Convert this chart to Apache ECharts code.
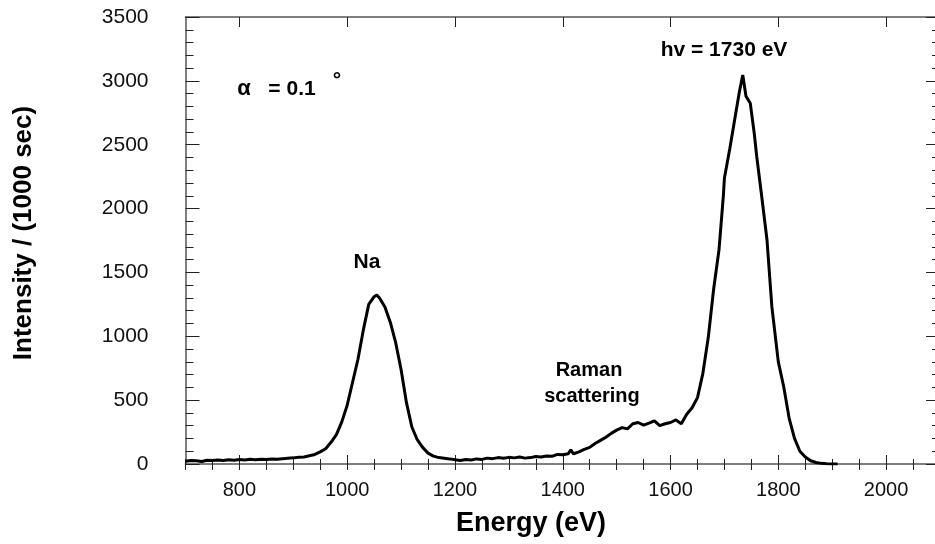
<!DOCTYPE html>
<html>
<head>
<meta charset="utf-8">
<script src="https://cdn.jsdelivr.net/npm/echarts@6/dist/echarts.min.js"></script>
<style>
  html, body { margin: 0; padding: 0; background: #fff; overflow: hidden; }
  /* a little wider than the window: the right frame of the original falls just outside */
  #chart { width: 941px; height: 544px; }
</style>
</head>
<body>
<div id="chart"></div>
<script>
// spectrum
const energy = [
  700, 710, 720, 730, 740, 750, 760, 770, 780, 790, 800, 810, 820, 830, 840, 850, 860, 870, 880, 890,
  900, 910, 920, 930, 940, 950, 960, 970, 980, 990, 1000, 1010, 1020, 1030, 1040, 1050, 1055, 1060,
  1070, 1080, 1090, 1100, 1110, 1120, 1130, 1140, 1150, 1160, 1170, 1180, 1190, 1200, 1210, 1220,
  1230, 1240, 1250, 1260, 1270, 1280, 1290, 1300, 1310, 1320, 1330, 1340, 1350, 1360, 1370, 1380,
  1390, 1400, 1410, 1415, 1420, 1430, 1440, 1450, 1460, 1470, 1480, 1490, 1500, 1510, 1520, 1530,
  1540, 1550, 1560, 1570, 1580, 1590, 1600, 1610, 1620, 1630, 1640, 1650, 1660, 1670, 1680, 1690,
  1698, 1700, 1710, 1720, 1728, 1734, 1740, 1748, 1755, 1760, 1770, 1779, 1788, 1800, 1810, 1820,
  1830, 1840, 1850, 1860, 1870, 1880, 1890, 1900, 1910
]
const intensity = [
  22, 28, 25, 20, 30, 27, 32, 28, 33, 30, 35, 32, 37, 34, 38, 35, 40, 38, 42, 45,
  48, 52, 55, 65, 75, 95, 120, 170, 230, 330, 460, 640, 820, 1050, 1250, 1310, 1323, 1300,
  1230, 1110, 950, 740, 480, 290, 190, 130, 85, 62, 50, 45, 40, 33, 28, 36,
  32, 40, 36, 46, 42, 50, 45, 52, 48, 55, 46, 50, 58, 55, 63, 60,
  75, 72, 80, 110, 80, 95, 115, 130, 160, 185, 210, 240, 265, 285, 275, 315,
  325, 305, 320, 338, 300, 315, 325, 345, 315, 390, 440, 520, 710, 990, 1370, 1680,
  2100, 2240, 2470, 2720, 2920, 3046, 2880, 2824, 2600, 2406, 2067, 1754, 1232, 800, 605, 360,
  200, 100, 55, 25, 12, 5, 2, 0, 0
]
// tick labels
const xLabels = [800, 1000, 1200, 1400, 1600, 1800, 2000]
const xMajor = [800, 1000, 1200, 1400, 1600, 1800, 2000]
const xRange = [700, 2100]
const yRange = [0, 3500]

const font = 'Liberation Sans, Arial, sans-serif'
const axisCol = '#555'
const tickCol = '#222'

const myChart = echarts.init(document.getElementById('chart'))

// x axes: one carries the labels + long ticks, a twin carries the 50 eV ticks
function xAxisOpt(pos, major, showLabel) {
  return {
    type: 'value',
    position: pos,
    min: xRange[0],
    max: xRange[1],
    interval: 50,
    splitLine: { show: false },
    axisLine: { show: true, onZero: false, lineStyle: { color: axisCol, width: 1.5 } },
    axisTick: { show: true, inside: true, length: major, customValues: xMajor, lineStyle: { color: tickCol, width: 1 } },
    axisLabel: {
      show: showLabel,
      customValues: xLabels,
      color: '#111',
      fontSize: 20,
      fontFamily: font,
      margin: 16,
      formatter: v => String(v)
    }
  }
}
function xMinorOpt(pos, len) {
  return {
    type: 'value',
    position: pos,
    min: xRange[0],
    max: xRange[1],
    interval: 50,
    splitLine: { show: false },
    axisLine: { show: false },
    axisTick: { show: true, inside: true, length: len, lineStyle: { color: tickCol, width: 1 } },
    axisLabel: { show: false }
  }
}

function yAxisOpt(pos, showLabel) {
  return {
    type: 'value',
    position: pos,
    min: yRange[0],
    max: yRange[1],
    interval: 500,
    splitLine: { show: false },
    axisLine: { show: true, onZero: false, lineStyle: { color: axisCol, width: 1.5 } },
    axisTick: { show: true, inside: true, length: 14, lineStyle: { color: tickCol, width: 1 } },
    minorTick: { show: true, splitNumber: 5, length: 8, lineStyle: { color: tickCol, width: 1 } },
    axisLabel: {
      show: showLabel,
      color: '#111',
      fontSize: 21,
      fontFamily: font,
      margin: 37,
      formatter: v => String(v)
    }
  }
}

const labelStyle = (text, size) => ({
  text: text,
  fontSize: size,
  fontWeight: 'bold',
  fontFamily: font,
  fill: '#000',
  align: 'center',
  verticalAlign: 'middle'
})

myChart.setOption({
  animation: false,
  backgroundColor: '#fff',
  grid: { left: 185.5, top: 17, right: 1, bottom: 80 },
  xAxis: [
    xAxisOpt('bottom', 9, true),
    xAxisOpt('top', 10, false),
    xMinorOpt('bottom', 5),
    xMinorOpt('top', 6)
  ],
  yAxis: [
    yAxisOpt('left', true),
    yAxisOpt('right', false)
  ],
  series: [
    {
      type: 'line',
      data: energy.map((e, i) => [e, intensity[i]]),
      showSymbol: false,
      lineStyle: { color: '#000', width: 3 },
      clip: true
    }
  ],
  graphic: [
    { type: 'text', x: 24, y: 233, rotation: Math.PI / 2, style: labelStyle('Intensity / (1000 sec)', 26) },
    { type: 'text', x: 531, y: 524, style: labelStyle('Energy (eV)', 27) },
    { type: 'text', x: 724, y: 50, style: labelStyle('hv = 1730 eV', 21) },
    { type: 'text', x: 367, y: 262, style: labelStyle('Na', 21) },
    { type: 'text', x: 589, y: 370, style: labelStyle('Raman', 20) },
    { type: 'text', x: 592, y: 396, style: labelStyle('scattering', 20) },
    { type: 'text', x: 244, y: 89, style: labelStyle('α', 22) },
    { type: 'text', x: 292, y: 89, style: labelStyle('= 0.1', 21) },
    { type: 'text', x: 337, y: 80, style: labelStyle('°', 21) }
  ]
})
</script>
</body>
</html>
